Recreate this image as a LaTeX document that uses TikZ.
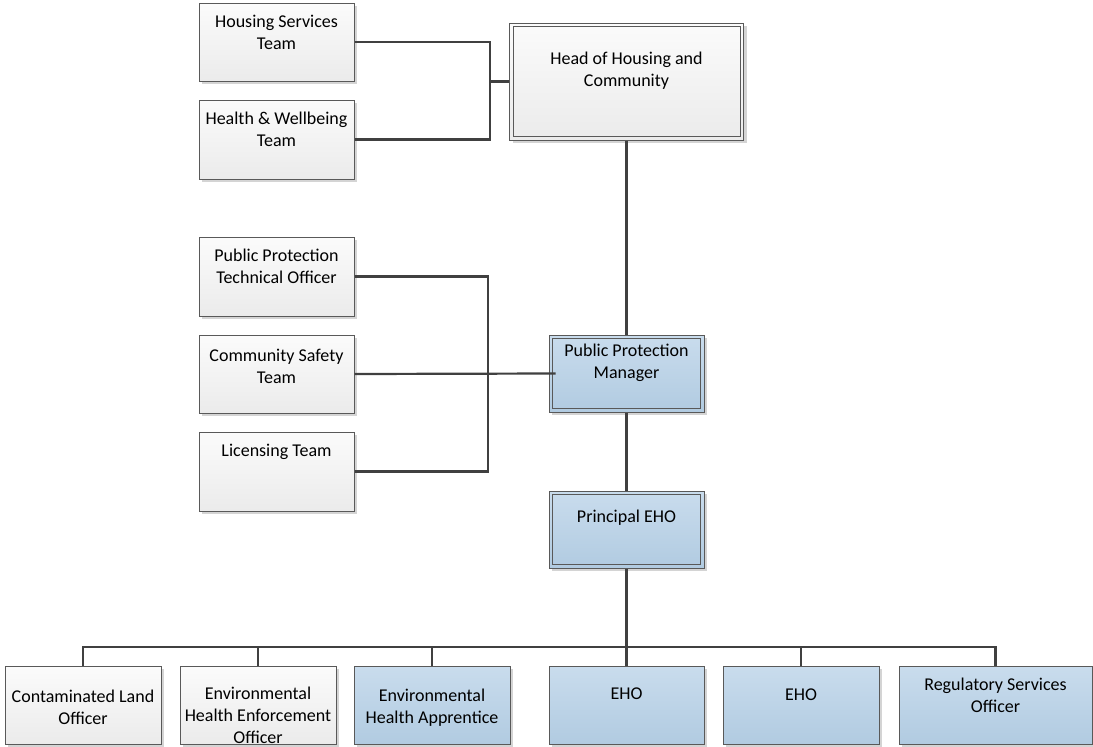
\documentclass[tikz,border=0pt]{standalone}
\usepackage{fontspec}
\setmainfont{Carlito}
\usetikzlibrary{shadows}
\definecolor{edge}{HTML}{595959}
\definecolor{wire}{HTML}{404040}
\definecolor{gtop}{HTML}{FBFBFB}
\definecolor{gbot}{HTML}{EBEBEB}
\definecolor{btop}{HTML}{C9DCED}
\definecolor{bbot}{HTML}{B1CBE1}
\definecolor{shade}{HTML}{D4D4D4}
\tikzset{
  box/.style={draw=edge, line width=1pt, inner sep=0pt,
    drop shadow={shadow xshift=3pt, shadow yshift=-3pt, fill=shade, opacity=1}},
  gbox/.style={box, top color=gtop, bottom color=gbot},
  bbox/.style={box, top color=btop, bottom color=bbot},
  txt/.style={align=center, inner sep=0pt, font=\fontsize{18}{22}\selectfont, text=black},
  wirel/.style={draw=wire, line width=2.2pt},
  inner/.style={draw=edge, line width=1pt}
}
\begin{document}
\begin{tikzpicture}[x=1pt, y=-1pt]
\useasboundingbox (0,0) rectangle (1093,747);
% top left teams
\node[gbox, minimum width=155pt, minimum height=78pt] (hs) at (276.5,42) {};
\node[txt] (hsT) at (276.5,32) {Housing Services\\Team};
\node[gbox, minimum width=155pt, minimum height=79pt] (hw) at (276.5,139.5) {};
\node[txt] (hwT) at (276.5,129) {Health \& Wellbeing\\Team};
% head
\node[gbox, minimum width=234pt, minimum height=117pt] (head) at (626.5,81.5) {};
\draw[inner] ([shift={(4pt,-4pt)}]head.north west) rectangle ([shift={(-4pt,4pt)}]head.south east);
\node[txt] (headT) at (626.5,70.5) {Head of Housing and\\Community};
% middle left teams
\node[gbox, minimum width=155pt, minimum height=79pt] (ppto) at (276.5,276.5) {};
\node[txt] (pptoT) at (276.5,266) {Public Protection\\Technical Officer};
\node[gbox, minimum width=155pt, minimum height=78pt] (cs) at (276.5,374) {};
\node[txt] (csT) at (276.5,366) {Community Safety\\Team};
\node[gbox, minimum width=155pt, minimum height=79pt] (lic) at (276.5,471.5) {};
\node[txt] (licT) at (276.5,452) {Licensing Team};
% managers
\node[bbox, minimum width=155pt, minimum height=77pt] (ppm) at (626.5,373.5) {};
\draw[inner] ([shift={(4pt,-4pt)}]ppm.north west) rectangle ([shift={(-4pt,4pt)}]ppm.south east);
\node[txt] (ppmT) at (626.5,362.5) {Public Protection\\Manager};
\node[bbox, minimum width=155pt, minimum height=77pt] (pe) at (626.5,529.5) {};
\draw[inner] ([shift={(4pt,-4pt)}]pe.north west) rectangle ([shift={(-4pt,4pt)}]pe.south east);
\node[txt] (peT) at (626.5,518) {Principal EHO};
% bottom row
\node[gbox, minimum width=156pt, minimum height=78pt] (clo) at (83,705) {};
\node[txt] (cloT) at (83,707.5) {Contaminated Land\\Officer};
\node[gbox, minimum width=156pt, minimum height=78pt] (ehe) at (258,705) {};
\node[txt] (eheT) at (258,715) {Environmental\\Health Enforcement\\Officer};
\node[bbox, minimum width=156pt, minimum height=78pt] (eha) at (432,705) {};
\node[txt] (ehaT) at (432,707.5) {Environmental\\Health Apprentice};
\node[bbox, minimum width=155pt, minimum height=78pt] (eho1) at (626.5,705) {};
\node[txt] (eho1T) at (626.5,694) {EHO};
\node[bbox, minimum width=156pt, minimum height=78pt] (eho2) at (801,705) {};
\node[txt] (eho2T) at (801,695) {EHO};
\node[bbox, minimum width=193pt, minimum height=78pt] (rso) at (995.5,705) {};
\node[txt] (rsoT) at (995.5,695) {Regulatory Services\\Officer};
% connectors
\coordinate (j1) at (490,81.5);
\draw[wirel] (hs.east) -| (j1) |- (hw.east);
\draw[wirel] (j1) -- (head.west);
\draw[wirel] (head.south) -- (ppm.north);
\coordinate (j2) at (488,374);
\draw[wirel] (ppto.east) -| (j2) |- (lic.east);
\draw[wirel] (cs.east) -- ([xshift=7pt]ppm.west);
\draw[wirel] (ppm.south) -- (pe.north);
\coordinate (bus) at (626.5,647);
\draw[wirel] (pe.south) -- (bus);
\draw[wirel] (bus) -| (clo.north);
\draw[wirel] (bus) -| (ehe.north);
\draw[wirel] (bus) -| (eha.north);
\draw[wirel] (bus) -- (eho1.north);
\draw[wirel] (bus) -| (eho2.north);
\draw[wirel] (bus) -| (rso.north);
\end{tikzpicture}
\end{document}
